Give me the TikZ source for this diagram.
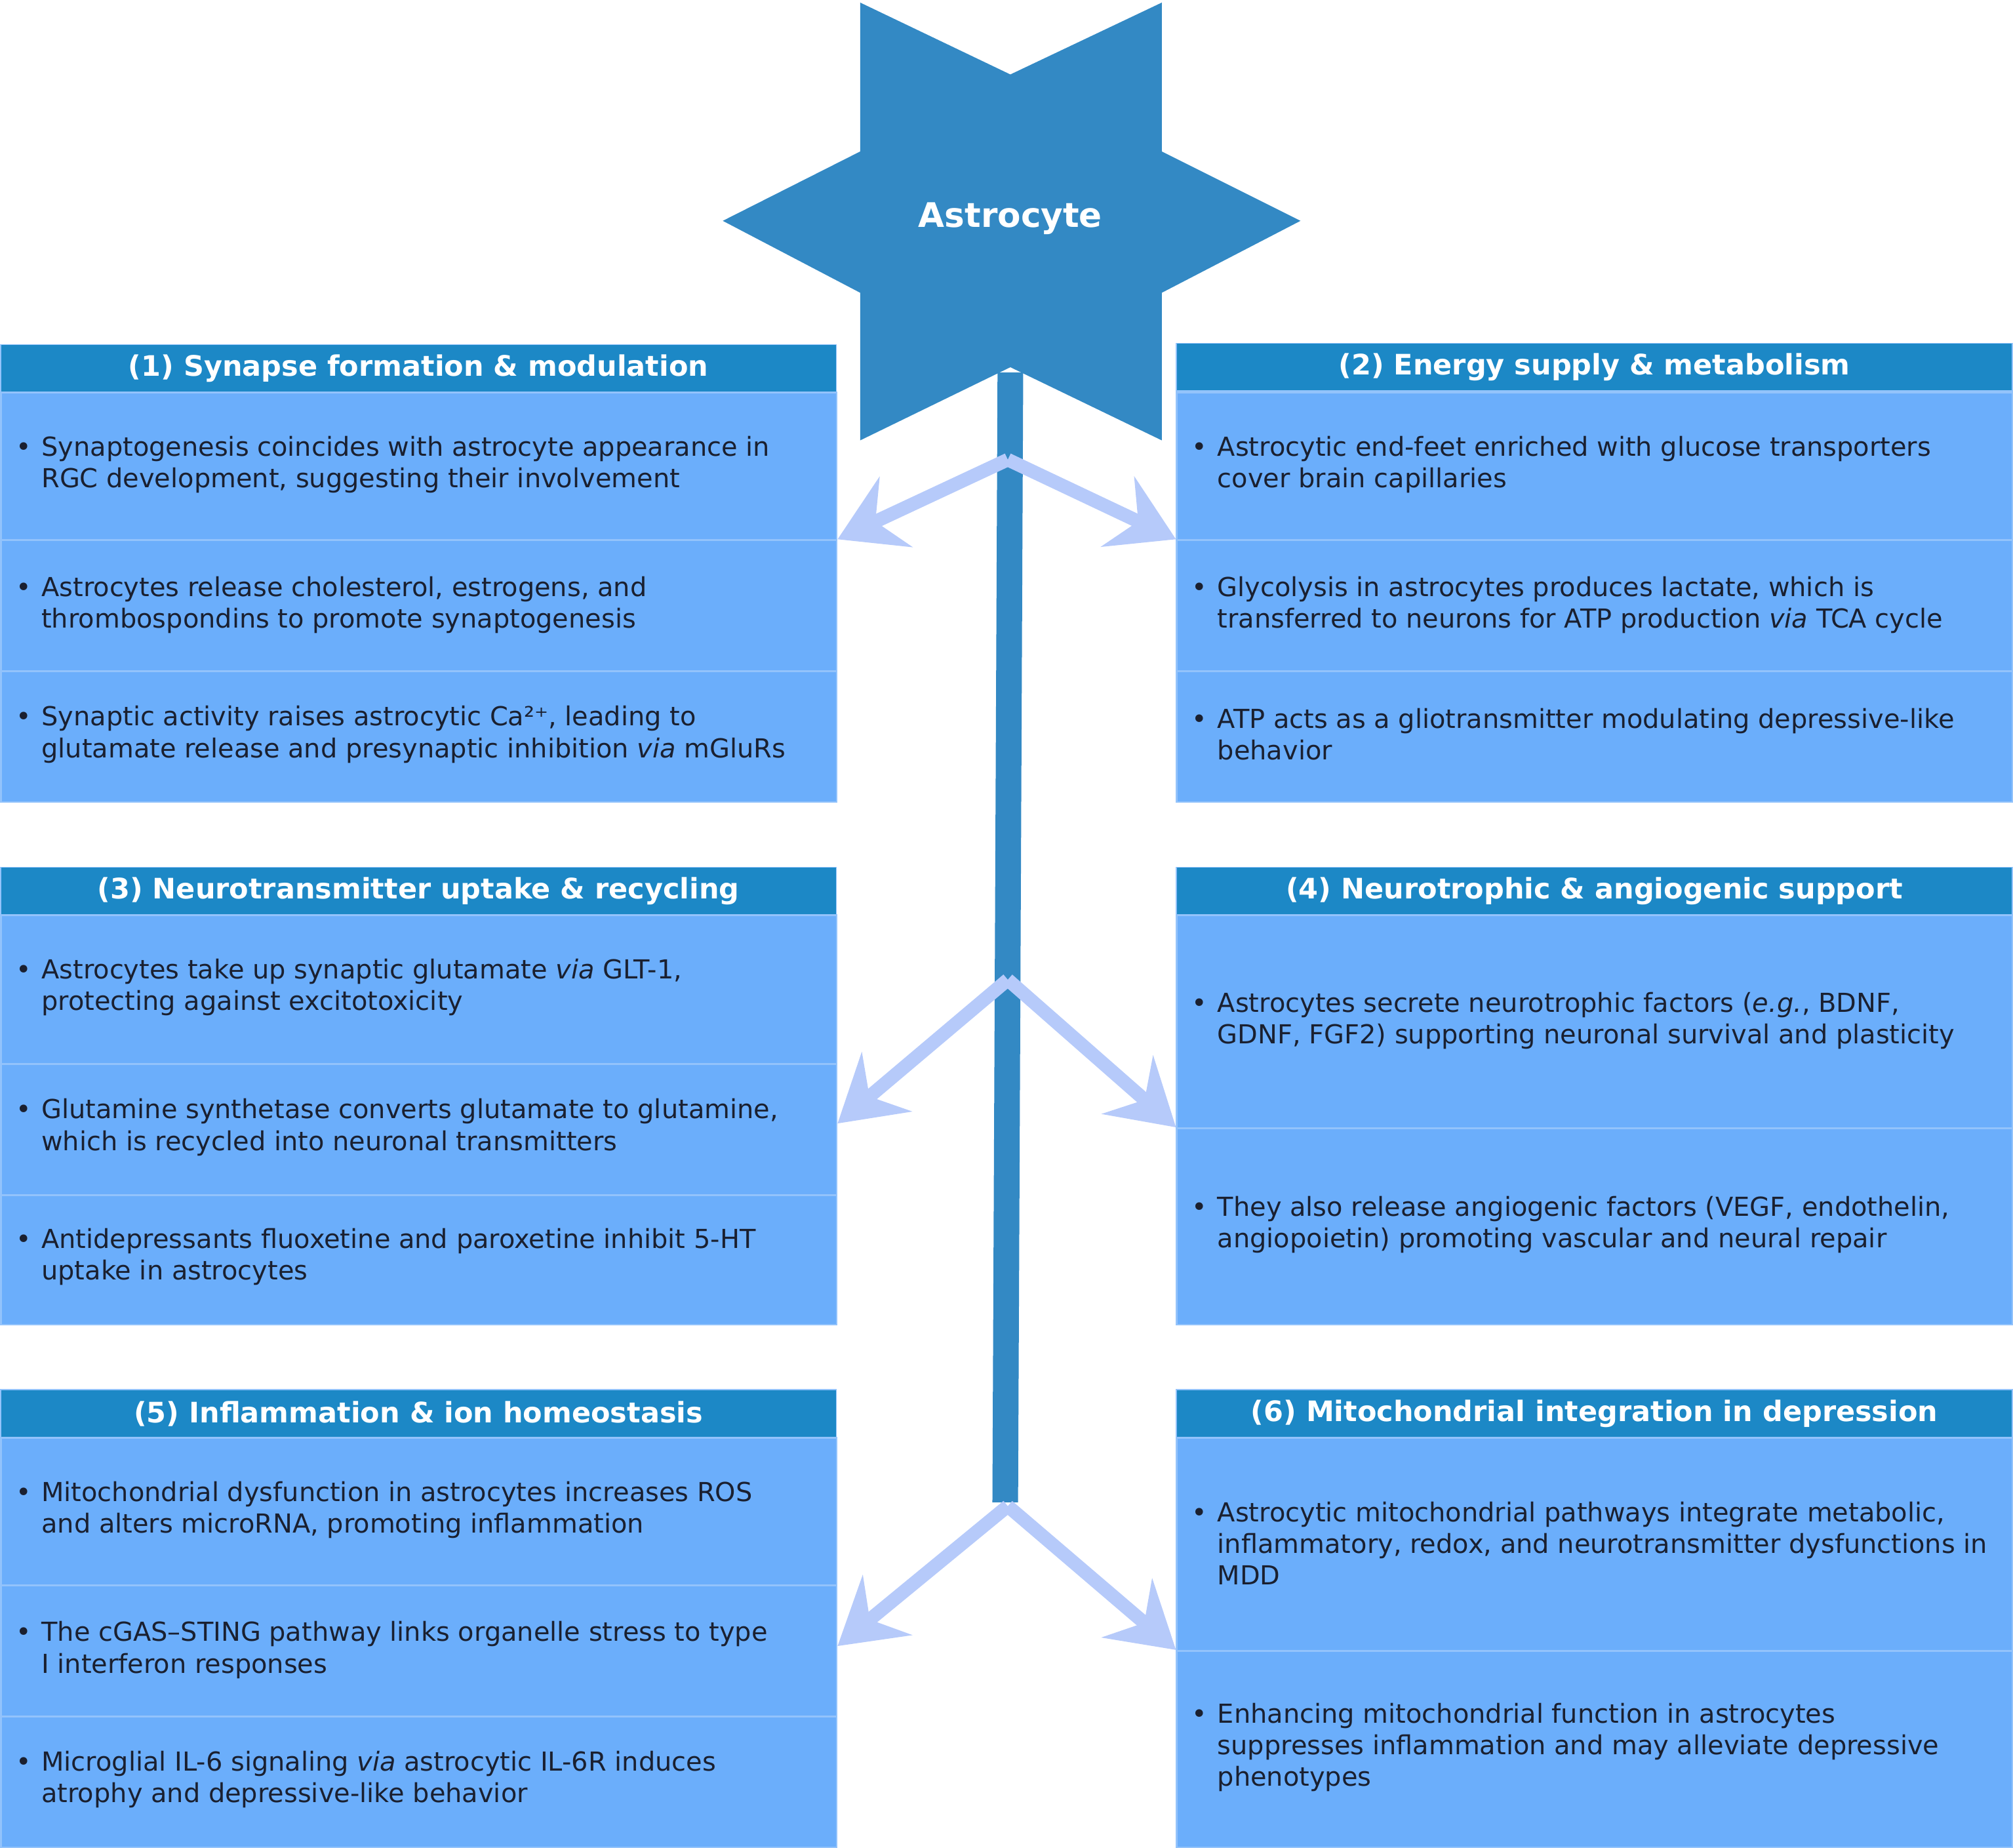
\documentclass[tikz,border=0pt]{standalone}
\usepackage{fontspec}
\setmainfont{DejaVu Sans}
\usetikzlibrary{arrows.meta,positioning}
\definecolor{starblue}{HTML}{3389C4}
\definecolor{headblue}{HTML}{1C88C6}
\definecolor{cellblue}{HTML}{6BAEFB}
\definecolor{lineblue}{HTML}{93C3FB}
\definecolor{arrowblue}{HTML}{B6CAFA}
\definecolor{textdark}{HTML}{1A2030}

\tikzset{
  head/.style={fill=headblue,draw=lineblue,line width=0.5pt,text=white,font=\bfseries\fontsize{12.5}{15}\selectfont,anchor=north west,minimum width=651*0.02cm,minimum height=37*0.02cm,inner sep=0pt},
  cell/.style={fill=cellblue,draw=lineblue,line width=0.8pt,anchor=north west,minimum width=651*0.02cm,inner sep=0pt},
  say/.style={text=textdark,font=\fontsize{11.6}{14}\selectfont,align=left,anchor=west,inner sep=0pt},
  spoke/.style={arrowblue,line width=6pt,-{Stealth[length=1cm,width=1.2cm,inset=0.35cm]}}
}
\newcommand{\bul}{\makebox[0.4cm][l]{\textbullet}}

\begin{document}
\begin{tikzpicture}[x={(0.02cm,0)},y={(0,-0.02cm)}]
\useasboundingbox (0,0) rectangle (1568,1439);

% left column
\node[head] (h1) at (0,268) {(1) Synapse formation \& modulation};
\node[cell,minimum height=115*0.02cm] (c11) at (0,305) {};
\node[cell,minimum height=102*0.02cm] (c12) at (0,420) {};
\node[cell,minimum height=102*0.02cm] (c13) at (0,522) {};
\node[say] at (12,362) {\bul Synaptogenesis coincides with astrocyte appearance in\\\hspace*{0.4cm}RGC development, suggesting their involvement};
\node[say] at (12,471) {\bul Astrocytes release cholesterol, estrogens, and\\\hspace*{0.4cm}thrombospondins to promote synaptogenesis};
\node[say] at (12,572) {\bul Synaptic activity raises astrocytic Ca²⁺, leading to\\\hspace*{0.4cm}glutamate release and presynaptic inhibition \textit{via} mGluRs};

\node[head] (h3) at (0,675) {(3) Neurotransmitter uptake \& recycling};
\node[cell,minimum height=116*0.02cm] (c31) at (0,712) {};
\node[cell,minimum height=102*0.02cm] (c32) at (0,828) {};
\node[cell,minimum height=101*0.02cm] (c33) at (0,930) {};
\node[say] at (12,769) {\bul Astrocytes take up synaptic glutamate \textit{via} GLT-1,\\\hspace*{0.4cm}protecting against excitotoxicity};
\node[say] at (12,878) {\bul Glutamine synthetase converts glutamate to glutamine,\\\hspace*{0.4cm}which is recycled into neuronal transmitters};
\node[say] at (12,979) {\bul Antidepressants fluoxetine and paroxetine inhibit 5-HT\\\hspace*{0.4cm}uptake in astrocytes};

\node[head] (h5) at (0,1082) {(5) Inflammation \& ion homeostasis};
\node[cell,minimum height=115*0.02cm] (c51) at (0,1119) {};
\node[cell,minimum height=102*0.02cm] (c52) at (0,1234) {};
\node[cell,minimum height=102*0.02cm] (c53) at (0,1336) {};
\node[say] at (12,1176) {\bul Mitochondrial dysfunction in astrocytes increases ROS\\\hspace*{0.4cm}and alters microRNA, promoting inflammation};
\node[say] at (12,1285) {\bul The cGAS–STING pathway links organelle stress to type\\\hspace*{0.4cm}I interferon responses};
\node[say] at (12,1386) {\bul Microglial IL-6 signaling \textit{via} astrocytic IL-6R induces\\\hspace*{0.4cm}atrophy and depressive-like behavior};

% right column
\node[head] (h2) at (916,267) {(2) Energy supply \& metabolism};
\node[cell,minimum height=115*0.02cm] (c21) at (916,305) {};
\node[cell,minimum height=102*0.02cm] (c22) at (916,420) {};
\node[cell,minimum height=102*0.02cm] (c23) at (916,522) {};
\node[say] at (928,362) {\bul Astrocytic end-feet enriched with glucose transporters\\\hspace*{0.4cm}cover brain capillaries};
\node[say] at (928,471) {\bul Glycolysis in astrocytes produces lactate, which is\\\hspace*{0.4cm}transferred to neurons for ATP production \textit{via} TCA cycle};
\node[say] at (928,572) {\bul ATP acts as a gliotransmitter modulating depressive-like\\\hspace*{0.4cm}behavior};

\node[head] (h4) at (916,675) {(4) Neurotrophic \& angiogenic support};
\node[cell,minimum height=166*0.02cm] (c41) at (916,712) {};
\node[cell,minimum height=153*0.02cm] (c42) at (916,878) {};
\node[say] at (928,795) {\bul Astrocytes secrete neurotrophic factors (\textit{e.g.}, BDNF,\\\hspace*{0.4cm}GDNF, FGF2) supporting neuronal survival and plasticity};
\node[say] at (928,954) {\bul They also release angiogenic factors (VEGF, endothelin,\\\hspace*{0.4cm}angiopoietin) promoting vascular and neural repair};

\node[head] (h6) at (916,1082) {(6) Mitochondrial integration in depression};
\node[cell,minimum height=166*0.02cm] (c61) at (916,1119) {};
\node[cell,minimum height=153*0.02cm] (c62) at (916,1285) {};
\node[say] at (928,1202) {\bul Astrocytic mitochondrial pathways integrate metabolic,\\\hspace*{0.4cm}inflammatory, redox, and neurotransmitter dysfunctions in\\\hspace*{0.4cm}MDD};
\node[say] at (928,1361) {\bul Enhancing mitochondrial function in astrocytes\\\hspace*{0.4cm}suppresses inflammation and may alleviate depressive\\\hspace*{0.4cm}phenotypes};

% star and trunk
\fill[starblue] (1013,172) -- (905,228) -- (905,343) -- (787,286) -- (670,343) -- (670,228)
  -- (563,172) -- (670,118) -- (670,2) -- (787,58) -- (905,2) -- (905,118) -- cycle;
\node[text=white,font=\bfseries\fontsize{15}{18}\selectfont] (astro) at (787,170) {Astrocyte};
\fill[starblue] (777,290) -- (797,290) -- (793,1170) -- (773,1170) -- cycle;

\coordinate (hub1) at (785,358);
\coordinate (hub2) at (785,763);
\coordinate (hub3) at (785,1173);
\draw[spoke] (hub1) -- (c12.north east);
\draw[spoke] (hub1) -- (c22.north west);
\draw[spoke] (hub2) -- ([yshift=-0.94cm]c32.north east);
\draw[spoke] (hub2) -- (c42.north west);
\draw[spoke] (hub3) -- ([yshift=-0.96cm]c52.north east);
\draw[spoke] (hub3) -- (c62.north west);
\end{tikzpicture}
\end{document}
